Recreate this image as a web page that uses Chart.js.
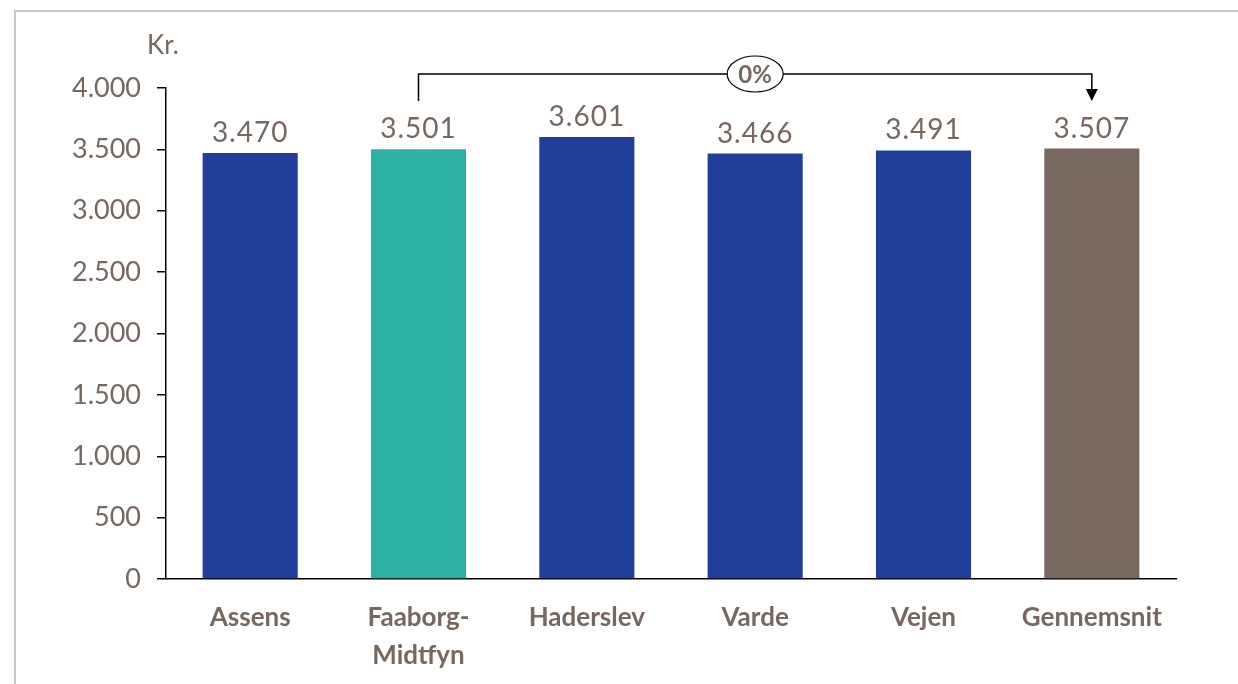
<!DOCTYPE html>
<html>
<head>
<meta charset="utf-8">
<script src="https://cdn.jsdelivr.net/npm/chart.js@4/dist/chart.umd.min.js"></script>
<style>
  html, body { margin: 0; padding: 0; background: #fff; }
  #wrap { position: relative; width: 1238px; height: 684px; }
  #frame { position: absolute; left: 14px; top: 10px; right: 0; bottom: 0;
           border-left: 2px solid #c8c8c8; border-top: 2px solid #c8c8c8; }
  canvas { position: absolute; left: 0; top: 0; }
</style>
</head>
<body>
<div id="wrap">
  <div id="frame"></div>
  <canvas id="chart" width="1238" height="684"></canvas>
</div>
<script>
const categories = ["Assens", ["Faaborg-", "Midtfyn"], "Haderslev", "Varde", "Vejen", "Gennemsnit"];
const values = [3470, 3501, 3601, 3466, 3491, 3507];
const barColors = ["#213F99", "#2EB0A5", "#213F99", "#213F99", "#213F99", "#78685F"];
const yTicks = [0, 500, 1000, 1500, 2000, 2500, 3000, 3500, 4000];
const unitLabel = "Kr.";
const changeLabel = "0%";

const textColor = "#76675F";
const fontFamily = "Lato, sans-serif";
const fmt = v => v.toLocaleString("da-DK");

// value labels above each bar
const valueLabels = {
    id: "valueLabels",
    afterDatasetsDraw(chart) {
        const ctx = chart.ctx;
        const meta = chart.getDatasetMeta(0);
        ctx.save();
        ctx.fillStyle = textColor;
        ctx.font = `28px ${fontFamily}`;
        ctx.letterSpacing = "1px";
        ctx.textAlign = "center";
        ctx.textBaseline = "alphabetic";
        meta.data.forEach((bar, i) => {
            ctx.fillText(fmt(values[i]), bar.x, bar.y - 11);
        });
        ctx.restore();
    }
};

// unit label and the bracket from Faaborg-Midtfyn to the average
const extras = {
    id: "extras",
    afterDraw(chart) {
        const ctx = chart.ctx;
        const x = chart.scales.x;
        const area = chart.chartArea;
        ctx.save();
        ctx.fillStyle = textColor;
        ctx.font = `26px ${fontFamily}`;
        ctx.textAlign = "left";
        ctx.textBaseline = "middle";
        ctx.fillText(unitLabel, 147, 46);

        const x1 = x.getPixelForValue(1);
        const x2 = x.getPixelForValue(5);
        const yTop = area.top - 14;
        const yEnd = area.top + 13;
        ctx.strokeStyle = "#000";
        ctx.lineWidth = 1.5;
        ctx.beginPath();
        ctx.moveTo(x1, yEnd);
        ctx.lineTo(x1, yTop);
        ctx.lineTo(x2, yTop);
        ctx.lineTo(x2, yEnd - 10);
        ctx.stroke();
        ctx.fillStyle = "#000";
        ctx.beginPath();
        ctx.moveTo(x2 - 6, yEnd - 12);
        ctx.lineTo(x2 + 6, yEnd - 12);
        ctx.lineTo(x2, yEnd);
        ctx.closePath();
        ctx.fill();

        const cx = x.getPixelForValue(3);
        ctx.beginPath();
        ctx.ellipse(cx, yTop, 28, 18, 0, 0, Math.PI * 2);
        ctx.fillStyle = "#fff";
        ctx.fill();
        ctx.lineWidth = 1.2;
        ctx.stroke();
        ctx.fillStyle = textColor;
        ctx.font = `bold 24px ${fontFamily}`;
        ctx.textAlign = "center";
        ctx.fillText(changeLabel, cx, yTop + 1);
        ctx.restore();
    }
};

new Chart(document.getElementById("chart"), {
    type: "bar",
    data: {
        labels: categories,
        datasets: [{
            data: values,
            backgroundColor: barColors,
            categoryPercentage: 1,
            barPercentage: 0.565
        }]
    },
    options: {
        responsive: false,
        animation: false,
        layout: { padding: { top: 88, right: 62, left: 0, bottom: 0 } },
        plugins: { legend: { display: false }, tooltip: { enabled: false } },
        scales: {
            x: {
                grid: { display: false },
                border: { display: true, color: "#000", width: 1.5 },
                ticks: {
                    color: textColor,
                    font: { family: fontFamily, size: 26, weight: "bold", lineHeight: 1.45 },
                    padding: 12,
                    maxRotation: 0
                },
                afterFit(scale) { scale.height = 105; }
            },
            y: {
                min: 0,
                max: 4000,
                afterBuildTicks(scale) { scale.ticks = yTicks.map(v => ({ value: v })); },
                grid: { display: true, drawOnChartArea: false, drawTicks: true, tickLength: 9, color: "#000", lineWidth: 1.5 },
                border: { display: true, color: "#000", width: 1.5 },
                ticks: {
                    color: textColor,
                    font: { family: fontFamily, size: 27 },
                    padding: 16,
                    callback: v => fmt(v)
                },
                afterFit(scale) { scale.width = 166; }
            }
        }
    },
    plugins: [valueLabels, extras]
});
</script>
</body>
</html>
